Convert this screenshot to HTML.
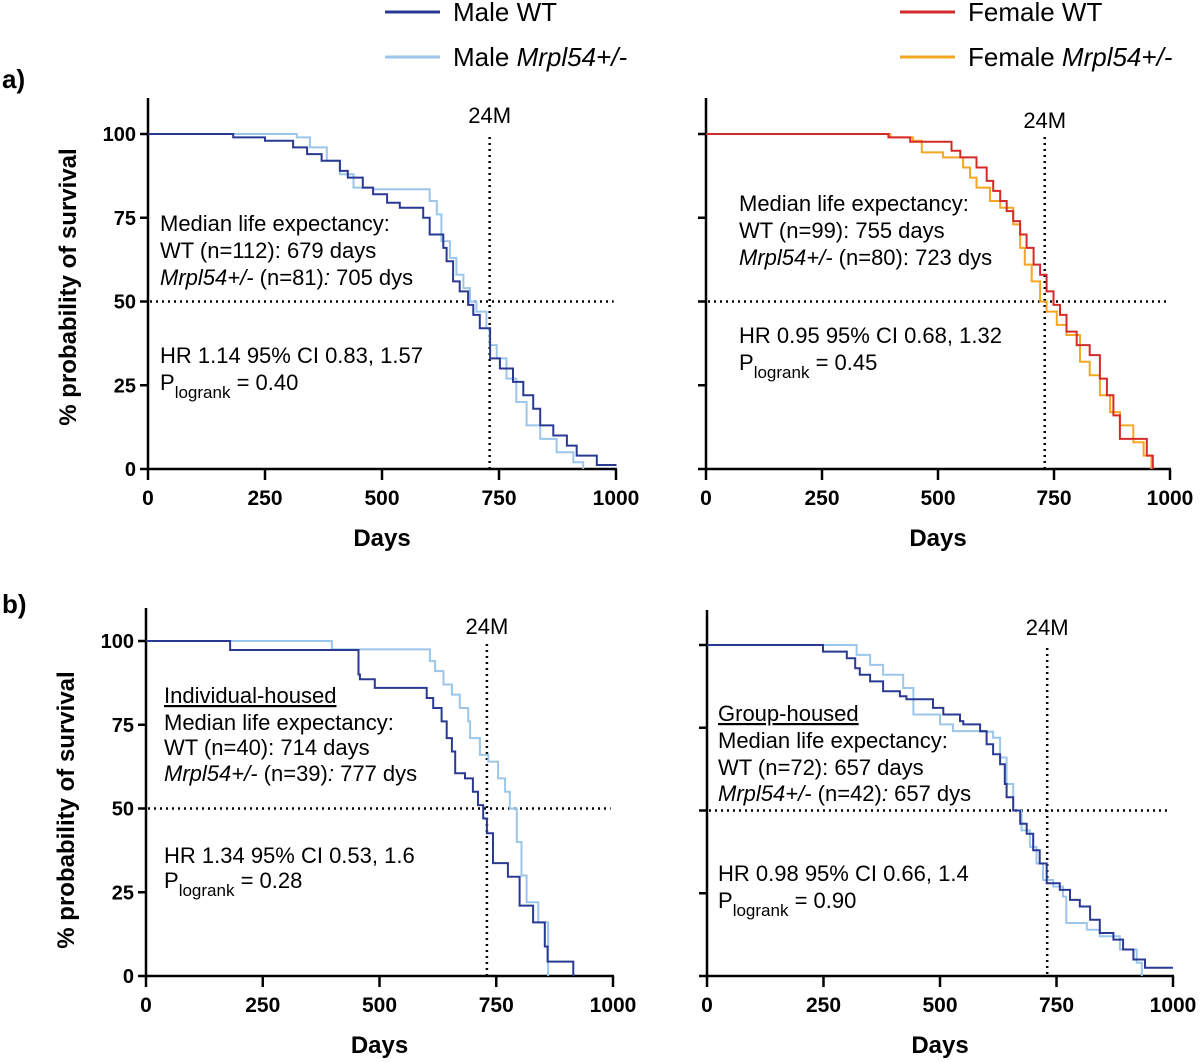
<!DOCTYPE html>
<html><head><meta charset="utf-8"><style>
html,body{margin:0;padding:0;background:#fff;}
svg{display:block;font-family:"Liberation Sans",Arial,sans-serif;}
</style></head><body>
<svg id="fig" width="1200" height="1062" viewBox="0 0 1200 1062" xmlns="http://www.w3.org/2000/svg">
<g font-size="26">
 <line x1="385" y1="12" x2="440" y2="12" stroke="#2a3a93" stroke-width="3"/>
 <text x="453" y="21">Male WT</text>
 <line x1="385" y1="57" x2="440" y2="57" stroke="#9cc6ea" stroke-width="3"/>
 <text x="453" y="66">Male <tspan font-style="italic">Mrpl54+/-</tspan></text>
 <line x1="900" y1="12" x2="955" y2="12" stroke="#d42a2a" stroke-width="3"/>
 <text x="968" y="21">Female WT</text>
 <line x1="900" y1="57" x2="955" y2="57" stroke="#f5a623" stroke-width="3"/>
 <text x="968" y="66">Female <tspan font-style="italic">Mrpl54+/-</tspan></text>
</g>
<text x="2" y="88" font-size="26" font-weight="bold">a)</text>
<text x="2" y="613" font-size="26" font-weight="bold">b)</text>
<text transform="translate(76,287) rotate(-90)" text-anchor="middle" font-size="24" font-weight="bold">% probability of survival</text>
<text transform="translate(74,810) rotate(-90)" text-anchor="middle" font-size="24" font-weight="bold">% probability of survival</text>
</svg>
<script>
// ---- data (day of step, survival % after step) ----
const xTicks = [0, 250, 500, 750, 1000];
const yTicks = [0, 25, 50, 75, 100];
const aMaleWtDays = [0,182,250,310,340,371,410,427,459,481,511,538,588,602,631,638,652,666,684,695,709,731,752,780,802,823,838,866,895,916,959,1001];
const aMaleWtSurv = [100,99,98,96,94,92,89,87,84,82,79.5,78,75,70,66,62,56,53,49,46,42,33,30,26,22,18,13,10,7,4,1.2,1.2];
const aMaleMutDays = [0,318,346,382,410,439,481,602,617,627,645,659,674,688,702,723,730,745,766,787,809,838,873,909,930];
const aMaleMutSurv = [100,99,96,92,88,84,83.5,80,76,68,63,58,54,50,47,42,37,33,27,20,13,9,5,2,0];
const aFemWtDays = [0,393,440,529,548,583,605,619,634,648,662,677,691,706,720,734,749,763,777,799,827,849,864,878,892,950,963];
const aFemWtSurv = [100,99,97.7,95,93,90,86,83,80,77,74,70,66,61,58,53,49,46,41,37,34,27,22,16,9,4,0];
const aFemMutDays = [0,397,446,465,511,554,569,583,612,634,662,677,687,702,720,734,756,777,806,827,849,871,892,921,943,960];
const aFemMutSurv = [100,99,98,94.5,93,90,87,84,80,78,73,66,61,56,50,47,43,40,32,28,22,17,13,8,4,0];
const bIndWtDays = [0,180,455,458,490,601,615,633,644,655,662,683,700,711,722,730,743,775,800,829,854,860,915];
const bIndWtSurv = [100,97.3,90,88.6,86,83,80,76,71,67,60.5,59,55,51,47,42.6,33.7,29.6,21,16,8.8,4.3,0];
const bIndMutDays = [0,398,608,619,637,655,672,690,694,715,733,754,769,779,794,804,815,840,861];
const bIndMutSurv = [100,97.5,94,91,87,84,80,76,71,66,64,59,55,50,40,30,22,16,0];
const bGrpWtDays = [0,249,300,318,328,350,378,414,428,485,507,543,550,586,600,614,629,639,643,657,672,686,700,714,729,757,779,800,822,843,872,893,915,940,1000];
const bGrpWtSurv = [100,98,96,93,91,89,86,84.5,83.6,81,79,77,76,74,70,67,64,58,54,50,46,43,38,34,28,26,23,21,17,13,11,8,5,2.5,2.5];
const bGrpMutDays = [0,321,350,378,421,443,500,528,586,614,629,643,657,675,693,707,721,743,764,771,815,843,886,922,933];
const bGrpMutSurv = [100,97,94,91,87,79,76,74,73.8,72,66,58,50,44,39,34,29,27,24,16,14,12,8,4,0];

const svg = document.getElementById('fig');
const NS = 'http://www.w3.org/2000/svg';
function mk(tag, attrs, parent){const e=document.createElementNS(NS,tag);for(const k in attrs)e.setAttribute(k,attrs[k]);(parent||svg).appendChild(e);return e;}

function panel(p){
  const g = mk('g',{});
  
  
  const xs = d => p.x0 + (p.x1-p.x0)*d/1000;
  const ys = v => p.y0 - (p.y0-p.y100)*v/100;
  const ax = mk('line',{x1:p.x0,y1:p.yTop,x2:p.x0,y2:p.y0+1,stroke:'#000','stroke-width':2.5},g);
  
  
  const bx = mk('line',{x1:p.x0-1,y1:p.y0,x2:p.x1+1,y2:p.y0,stroke:'#000','stroke-width':2.5},g);
  
  
  yTicks.forEach(v=>{
    mk('line',{x1:p.x0-8,y1:ys(v),x2:p.x0,y2:ys(v),stroke:'#000','stroke-width':2.5},g);
    if(p.ylabels){const t=mk('text',{x:p.x0-12,y:ys(v)+7,'text-anchor':'end','font-size':20,'font-weight':'bold'},g);t.textContent=v;
      
      }
  });
  xTicks.forEach(d=>{
    mk('line',{x1:xs(d),y1:p.y0,x2:xs(d),y2:p.y0+11,stroke:'#000','stroke-width':2.5},g);
    const t=mk('text',{x:xs(d),y:p.y0+36,'text-anchor':'middle','font-size':21,'font-weight':'bold'},g);t.textContent=d;
    
    
  });
  const xt=mk('text',{x:(p.x0+p.x1)/2,y:p.y0+77,'text-anchor':'middle','font-size':24,'font-weight':'bold'},g);xt.textContent='Days';
  
  
  const hl=mk('line',{x1:p.x0+2,y1:ys(50),x2:xs(995),y2:ys(50),stroke:'#000','stroke-width':2.5,'stroke-dasharray':'2 4'},g);
  
  
  const vl=mk('line',{x1:xs(730),y1:ys(100)+3,x2:xs(730),y2:p.y0,stroke:'#000','stroke-width':2.5,'stroke-dasharray':'2 4'},g);
  
  
  const lm=mk('text',{x:xs(730),y:p.labY,'text-anchor':'middle','font-size':22},g);lm.textContent='24M';
  
  
  p.series.forEach(s=>{
    let d='M'+xs(s.days[0])+','+ys(s.surv[0]);
    for(let i=1;i<s.days.length;i++){d+=' H'+xs(s.days[i]).toFixed(1)+' V'+ys(s.surv[i]).toFixed(1);}
    const path=mk('path',{d:d,fill:'none',stroke:s.color,'stroke-width':2},g);
    
    
  });
  p.text.forEach(l=>{
    const t=mk('text',{x:p.tx,y:l.y,'font-size':22},g);
    t.innerHTML=l.h;
    if(l.u) t.setAttribute('text-decoration','underline');
    
    
  });
}
const P = '<tspan>P</tspan><tspan font-size="17" dy="8">logrank</tspan><tspan dy="-8"> = ';
panel({name:'panel-a-male',x0:148,x1:616,y0:469,y100:134,yTop:98,ylabels:true,labY:123,tx:160,
  series:[{days:aMaleMutDays,surv:aMaleMutSurv,color:'#9cc6ea',name:'male-mrpl54-curve'},{days:aMaleWtDays,surv:aMaleWtSurv,color:'#2a3a93',name:'male-wt-curve'}],
  text:[{y:231,h:'Median life expectancy:'},{y:258,h:'WT (n=112): 679 days'},{y:285,h:'<tspan font-style="italic">Mrpl54+/-</tspan> (n=81)<tspan font-style="italic">:</tspan> 705 dys'},{y:363,h:'HR 1.14 95% CI 0.83, 1.57'},{y:390,h:P+'0.40</tspan>'}]});
panel({name:'panel-a-female',x0:706,x1:1170,y0:469,y100:134,yTop:98,ylabels:false,labY:128,tx:739,
  series:[{days:aFemMutDays,surv:aFemMutSurv,color:'#f5a623',name:'female-mrpl54-curve'},{days:aFemWtDays,surv:aFemWtSurv,color:'#d42a2a',name:'female-wt-curve'}],
  text:[{y:211,h:'Median life expectancy:'},{y:238,h:'WT (n=99): 755 days'},{y:265,h:'<tspan font-style="italic">Mrpl54+/-</tspan> (n=80): 723 dys'},{y:343,h:'HR 0.95 95% CI 0.68, 1.32'},{y:370,h:P+'0.45</tspan>'}]});
panel({name:'panel-b-individual',x0:146,x1:613,y0:976,y100:641,yTop:608,ylabels:true,labY:634,tx:164,
  series:[{days:bIndMutDays,surv:bIndMutSurv,color:'#9cc6ea',name:'individual-mrpl54-curve'},{days:bIndWtDays,surv:bIndWtSurv,color:'#2a3a93',name:'individual-wt-curve'}],
  text:[{y:703,h:'Individual-housed',u:true},{y:730,h:'Median life expectancy:'},{y:755,h:'WT (n=40): 714 days'},{y:781,h:'<tspan font-style="italic">Mrpl54+/-</tspan> (n=39)<tspan font-style="italic">:</tspan> 777 dys'},{y:863,h:'HR 1.34 95% CI 0.53, 1.6'},{y:888,h:P+'0.28</tspan>'}]});
panel({name:'panel-b-group',x0:707,x1:1173,y0:976,y100:645,yTop:610,ylabels:false,labY:635,tx:718,
  series:[{days:bGrpMutDays,surv:bGrpMutSurv,color:'#9cc6ea',name:'group-mrpl54-curve'},{days:bGrpWtDays,surv:bGrpWtSurv,color:'#2a3a93',name:'group-wt-curve'}],
  text:[{y:721,h:'Group-housed',u:true},{y:748,h:'Median life expectancy:'},{y:775,h:'WT (n=72): 657 days'},{y:801,h:'<tspan font-style="italic">Mrpl54+/-</tspan> (n=42)<tspan font-style="italic">:</tspan> 657 dys'},{y:881,h:'HR 0.98 95% CI 0.66, 1.4'},{y:908,h:P+'0.90</tspan>'}]});
</script>
</body></html>
